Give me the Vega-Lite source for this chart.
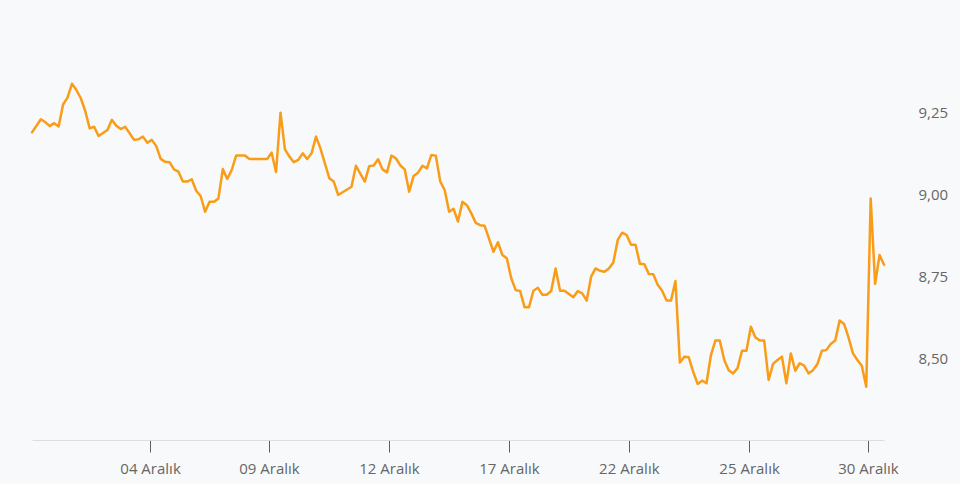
{
  "$schema": "https://vega.github.io/schema/vega-lite/v6.json",
  "autosize": "none",
  "width": 852,
  "height": 410,
  "padding": {"left": 32, "top": 30, "right": 76, "bottom": 44},
  "background": "#f8f9fb",
  "config": {"view": {"stroke": null}},
  "data": {"values": [
    {"i":0,"v":9.188},{"i":2,"v":9.228},{"i":3,"v":9.219},{"i":4,"v":9.207},{"i":5,"v":9.216},{"i":6,"v":9.206},{"i":7,"v":9.273},{"i":8,"v":9.294},{"i":9,"v":9.336},{"i":10,"v":9.317},{"i":11,"v":9.292},{"i":12,"v":9.253},{"i":13,"v":9.2},{"i":14,"v":9.205},{"i":15,"v":9.177},{"i":17,"v":9.195},{"i":18,"v":9.226},{"i":19,"v":9.208},{"i":20,"v":9.198},{"i":21,"v":9.205},{"i":23,"v":9.165},{"i":24,"v":9.167},{"i":25,"v":9.175},{"i":26,"v":9.156},{"i":27,"v":9.165},{"i":28,"v":9.146},{"i":29,"v":9.107},{"i":30,"v":9.098},{"i":31,"v":9.097},{"i":32,"v":9.075},
    {"i":33,"v":9.068},{"i":34,"v":9.038},{"i":35,"v":9.038},{"i":36,"v":9.045},{"i":37,"v":9.01},{"i":38,"v":8.994},{"i":39,"v":8.946},{"i":40,"v":8.976},{"i":41,"v":8.976},{"i":42,"v":8.986},{"i":43,"v":9.076},{"i":44,"v":9.046},{"i":45,"v":9.073},{"i":46,"v":9.117},{"i":48,"v":9.117},{"i":49,"v":9.107},{"i":53,"v":9.107},{"i":54,"v":9.126},{"i":55,"v":9.067},{"i":56,"v":9.248},{"i":57,"v":9.136},{"i":58,"v":9.114},{"i":59,"v":9.097},{"i":60,"v":9.104},{"i":61,"v":9.124},{"i":62,"v":9.107},{"i":63,"v":9.124},{"i":64,"v":9.175},
    {"i":65,"v":9.139},{"i":67,"v":9.048},{"i":68,"v":9.038},{"i":69,"v":8.997},{"i":72,"v":9.022},{"i":73,"v":9.086},{"i":75,"v":9.038},{"i":76,"v":9.085},{"i":77,"v":9.087},{"i":78,"v":9.106},{"i":79,"v":9.075},{"i":80,"v":9.066},{"i":81,"v":9.117},{"i":82,"v":9.109},{"i":83,"v":9.087},{"i":84,"v":9.075},{"i":85,"v":9.007},{"i":86,"v":9.055},{"i":87,"v":9.065},{"i":88,"v":9.086},{"i":89,"v":9.078},{"i":90,"v":9.119},{"i":91,"v":9.117},{"i":92,"v":9.038},{"i":93,"v":9.012},{"i":94,"v":8.946},{"i":95,"v":8.955},
    {"i":96,"v":8.916},{"i":97,"v":8.976},{"i":98,"v":8.966},{"i":99,"v":8.941},{"i":100,"v":8.912},{"i":101,"v":8.905},{"i":102,"v":8.903},{"i":104,"v":8.824},{"i":105,"v":8.853},{"i":106,"v":8.814},{"i":107,"v":8.804},{"i":108,"v":8.743},{"i":109,"v":8.707},{"i":110,"v":8.704},{"i":111,"v":8.655},{"i":112,"v":8.655},{"i":113,"v":8.705},{"i":114,"v":8.714},{"i":115,"v":8.693},{"i":116,"v":8.693},{"i":117,"v":8.704},{"i":118,"v":8.773},{"i":119,"v":8.705},{"i":120,"v":8.705},{"i":122,"v":8.685},{"i":123,"v":8.704},{"i":124,"v":8.697},{"i":125,"v":8.675},{"i":126,"v":8.748},{"i":127,"v":8.773},{"i":128,"v":8.766},
    {"i":129,"v":8.763},{"i":130,"v":8.773},{"i":131,"v":8.791},{"i":132,"v":8.86},{"i":133,"v":8.882},{"i":134,"v":8.875},{"i":135,"v":8.845},{"i":136,"v":8.845},{"i":137,"v":8.787},{"i":138,"v":8.786},{"i":139,"v":8.756},{"i":140,"v":8.755},{"i":141,"v":8.723},{"i":142,"v":8.705},{"i":143,"v":8.675},{"i":144,"v":8.675},{"i":145,"v":8.735},{"i":146,"v":8.486},{"i":147,"v":8.504},{"i":148,"v":8.502},{"i":149,"v":8.458},{"i":150,"v":8.421},{"i":151,"v":8.431},{"i":152,"v":8.423},{"i":153,"v":8.509},{"i":154,"v":8.553},{"i":155,"v":8.553},{"i":156,"v":8.494},{"i":157,"v":8.463},{"i":158,"v":8.453},{"i":159,"v":8.469},{"i":160,"v":8.522},
    {"i":161,"v":8.522},{"i":162,"v":8.595},{"i":163,"v":8.563},{"i":164,"v":8.553},{"i":165,"v":8.553},{"i":166,"v":8.433},{"i":167,"v":8.482},{"i":168,"v":8.494},{"i":169,"v":8.504},{"i":170,"v":8.423},{"i":171,"v":8.514},{"i":172,"v":8.461},{"i":173,"v":8.484},{"i":174,"v":8.477},{"i":175,"v":8.453},{"i":176,"v":8.463},{"i":177,"v":8.482},{"i":178,"v":8.522},{"i":179,"v":8.524},{"i":180,"v":8.543},{"i":181,"v":8.553},{"i":182,"v":8.614},{"i":183,"v":8.604},{"i":184,"v":8.563},{"i":185,"v":8.514},{"i":186,"v":8.494},{"i":187,"v":8.476},{"i":188,"v":8.4125},{"i":189,"v":8.986},{"i":190,"v":8.726},{"i":191,"v":8.814},{"i":192,"v":8.784}
  ]},
  "mark": {"type": "line", "color": "#f99c18", "strokeWidth": 2.5, "strokeJoin": "round", "strokeCap": "round"},
  "encoding": {
    "x": {
      "field": "i", "type": "quantitative",
      "scale": {"domain": [0, 192], "nice": false, "zero": false},
      "axis": {
        "title": null,
        "values": [26.6, 53.4, 80.45, 107.5, 134.5, 161.6, 188.4],
        "labelExpr": "['04 Aralık','09 Aralık','12 Aralık','17 Aralık','22 Aralık','25 Aralık','30 Aralık'][round((datum.value-26.6)/27)]",
        "grid": false,
        "domainColor": "#dcdde0",
        "domainWidth": 1,
        "tickColor": "#5f5f5f",
        "tickSize": 12,
        "tickWidth": 1,
        "labelPadding": 9,
        "labelFont": "Open Sans",
        "labelFontSize": 15,
        "labelColor": "#666666",
        "labelFlush": false
      }
    },
    "y": {
      "field": "v", "type": "quantitative",
      "scale": {"domain": [8.25, 9.5], "nice": false, "zero": false},
      "axis": {
        "orient": "right",
        "title": null,
        "values": [8.5, 8.75, 9, 9.25],
        "labelExpr": "replace(format(datum.value, '.2f'), '.', ',')",
        "grid": false,
        "domain": false,
        "ticks": false,
        "labelPadding": 34,
        "labelFont": "Open Sans",
        "labelFontSize": 15,
        "labelColor": "#666666"
      }
    }
  }
}
